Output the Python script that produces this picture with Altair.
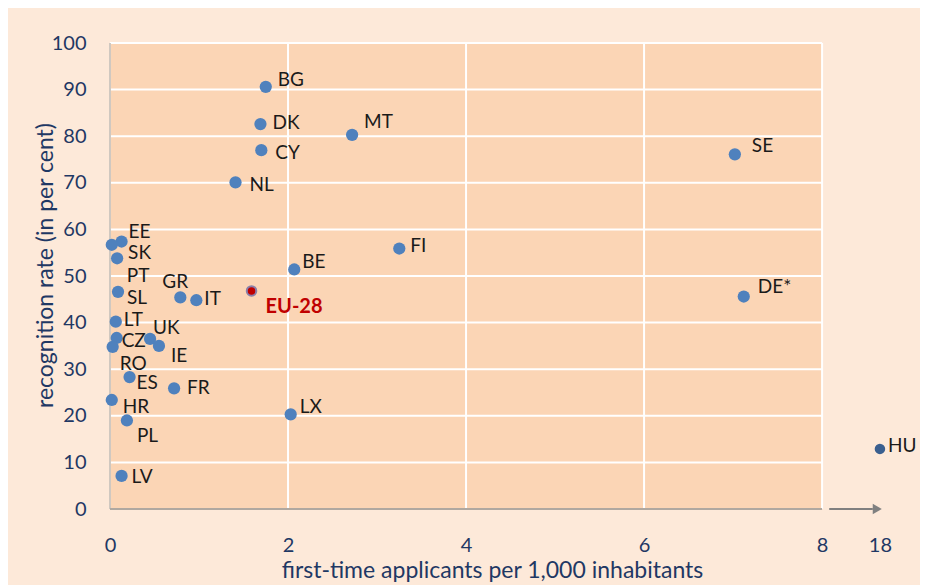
import altair as alt
import pandas as pd

# ---------------- data ----------------
countries = ["BG", "DK", "CY", "NL", "MT", "SE", "FI", "BE", "DE*", "LX", "HU",
             "GR", "IT", "EE", "PT", "SK", "SL", "LT", "CZ", "UK", "RO", "IE",
             "ES", "FR", "HR", "PL", "LV"]
applicants = [1.75, 1.69, 1.70, 1.41, 2.72, 7.02, 3.25, 2.07, 7.12, 2.03, 18.0,
              0.79, 0.97, 0.13, 0.02, 0.08, 0.09, 0.065, 0.075, 0.45, 0.03, 0.55,
              0.22, 0.72, 0.02, 0.19, 0.13]
recognition = [90.6, 82.6, 77.0, 70.1, 80.3, 76.1, 55.9, 51.4, 45.6, 20.3, 12.9,
               45.4, 44.8, 57.4, 56.7, 53.8, 46.6, 40.2, 36.7, 36.5, 34.8, 35.0,
               28.3, 25.9, 23.4, 19.0, 7.1]
eu_label = ["EU-28"]
eu_applicants = [1.59]
eu_recognition = [46.8]

x_ticks = [0, 2, 4, 6, 8]
y_ticks = [0, 10, 20, 30, 40, 50, 60, 70, 80, 90, 100]

# ---------------- layout (not data) ----------------
AXIS_MAX = 8          # end of the continuous part of the x axis
BREAK_POS = 8.65      # where values beyond the break are drawn
X_DOMAIN = [0, 9.1]
Y_DOMAIN = [0, 100]
WIDTH, HEIGHT = 810, 466
ARROW_FROM, ARROW_TO = 8.08, 8.62

label_offsets = {  # pixel offsets of the labels' left edges from their points
    "BG": (12, -7), "DK": (12, -1), "CY": (14, 3), "NL": (14, 3), "MT": (12, -13),
    "SE": (17, -8), "FI": (11, -3), "BE": (8, -7), "DE*": (14, -10), "LX": (9, -7),
    "HU": (8, -3), "GR": (-18, -15), "IT": (8, -1), "EE": (7, -10), "PT": (15, 31),
    "SK": (11, -5), "SL": (9, 6), "LT": (8, -2), "CZ": (5, 3), "UK": (3, -11),
    "RO": (7, 17), "IE": (12, 10), "ES": (7, 6), "FR": (13, 0), "HR": (11, 7),
    "PL": (10, 16), "LV": (10, 1),
}

FONT = "Lato, sans-serif"
NAVY = "#1F3864"
BLUE = "#4F81BD"
PLOT_BG = "#FBD5B5"
OUTER_BG = "#FDE9D9"

df = pd.DataFrame({"country": countries, "applicants": applicants, "recognition": recognition})
df["dx"] = df["country"].map(lambda c: label_offsets[c][0])
df["dy"] = df["country"].map(lambda c: label_offsets[c][1])
eu = pd.DataFrame({"country": eu_label, "applicants": eu_applicants, "recognition": eu_recognition})

break_label = f"{int(max(applicants))}"
pos_expr = f"datum.applicants > {AXIS_MAX} ? {BREAK_POS} : datum.applicants"
ux = (X_DOMAIN[1] - X_DOMAIN[0]) / WIDTH    # data units per pixel
uy = (Y_DOMAIN[1] - Y_DOMAIN[0]) / HEIGHT

xscale = alt.Scale(domain=X_DOMAIN, nice=False, zero=False)
yscale = alt.Scale(domain=Y_DOMAIN, nice=False)

x_axis = alt.Axis(
    values=x_ticks + [BREAK_POS], format="d",
    labelExpr=f"datum.value > {AXIS_MAX} ? '{break_label}' : datum.label",
    grid=False, domain=False, ticks=False, labelPadding=26, labelBaseline="top",
    labelFont=FONT, labelFontSize=20, labelColor=NAVY, labelFlush=False,
    title="first-time applicants per 1,000 inhabitants",
    titleFont=FONT, titleFontSize=23, titleFontWeight="normal", titleColor=NAVY,
    titleX=382, titleY=61, titleBaseline="middle", titleAnchor="middle",
)
y_axis = alt.Axis(
    values=y_ticks, grid=False, domain=False, ticks=False, labelPadding=24,
    labelFont=FONT, labelFontSize=20, labelColor=NAVY,
    title="recognition rate (in per cent)",
    titleFont=FONT, titleFontSize=23, titleFontWeight="normal", titleColor=NAVY,
    titleX=-65, titleY=222, titleBaseline="middle", titleAnchor="middle", titleAngle=-90,
)

# plot area background
frame = pd.DataFrame({"x0": [0], "x1": [AXIS_MAX], "y0": [Y_DOMAIN[0]], "y1": [Y_DOMAIN[1]]})
bg = alt.Chart(frame).mark_rect(color=PLOT_BG).encode(
    x=alt.X("x0:Q", scale=xscale, axis=x_axis), x2="x1:Q",
    y=alt.Y("y0:Q", scale=yscale, axis=y_axis), y2="y1:Q",
)

hgrid = alt.Chart(pd.DataFrame({"y": y_ticks[1:]})).mark_rule(color="white", strokeWidth=2).encode(
    y="y:Q", x=alt.datum(0), x2=alt.datum(AXIS_MAX)
)
vgrid = alt.Chart(pd.DataFrame({"x": x_ticks[1:]})).mark_rule(color="white", strokeWidth=2).encode(
    x="x:Q", y=alt.datum(Y_DOMAIN[0]), y2=alt.datum(Y_DOMAIN[1])
)
left_line = alt.Chart(pd.DataFrame({"x": [0]})).mark_rule(color="#D0C8C0", strokeWidth=2).encode(
    x="x:Q", y=alt.datum(Y_DOMAIN[0]), y2=alt.datum(Y_DOMAIN[1])
)
bottom_line = alt.Chart(pd.DataFrame({"y": [0]})).mark_rule(color="#B0A8A0", strokeWidth=2).encode(
    y="y:Q", x=alt.datum(0), x2=alt.datum(AXIS_MAX)
)
arrow_line = alt.Chart(pd.DataFrame({"y": [0]})).mark_rule(color="#808080", strokeWidth=2).encode(
    y="y:Q", x=alt.datum(ARROW_FROM), x2=alt.datum(ARROW_TO - 0.05)
)
arrow_head = alt.Chart(pd.DataFrame({"y": [0]})).mark_point(
    shape="triangle-right", filled=True, color="#808080", size=110, opacity=1
).encode(y="y:Q", x=alt.datum(ARROW_TO))

base = alt.Chart(df).transform_calculate(xp=pos_expr)

points = base.mark_circle(opacity=1).encode(
    x="xp:Q", y="recognition:Q",
    color=alt.condition(f"datum.applicants > {AXIS_MAX}", alt.value("#3A5F8F"), alt.value(BLUE)),
    size=alt.condition(f"datum.applicants > {AXIS_MAX}", alt.value(110), alt.value(150)),
)

labels = base.transform_calculate(
    lx=f"datum.xp + datum.dx * {ux}",
    ly=f"datum.recognition - datum.dy * {uy}",
).mark_text(align="left", baseline="middle", font=FONT, fontSize=19, color="#1A1A1A").encode(
    x="lx:Q", y="ly:Q", text="country:N",
)

eu_point = alt.Chart(eu).mark_point(
    filled=True, fill="#C00000", stroke="#8A7FA8", strokeWidth=2, size=90, opacity=1
).encode(x="applicants:Q", y="recognition:Q")
eu_text = alt.Chart(eu).mark_text(
    align="left", baseline="middle", font=FONT, fontSize=20, fontWeight="bold",
    color="#C00000", dx=14, dy=16
).encode(x="applicants:Q", y="recognition:Q", text="country:N")

chart = alt.layer(
    bg, hgrid, vgrid, left_line, bottom_line, arrow_line, arrow_head,
    points, eu_point, labels, eu_text
).properties(
    width=WIDTH, height=HEIGHT,
    autosize=alt.AutoSizeParams(type="none"),
    padding={"left": 102, "top": 35, "right": 0, "bottom": 76},
    background=OUTER_BG,
).configure_view(stroke=None)

chart.save("out.html", embed_options={"renderer": "svg", "actions": False})
